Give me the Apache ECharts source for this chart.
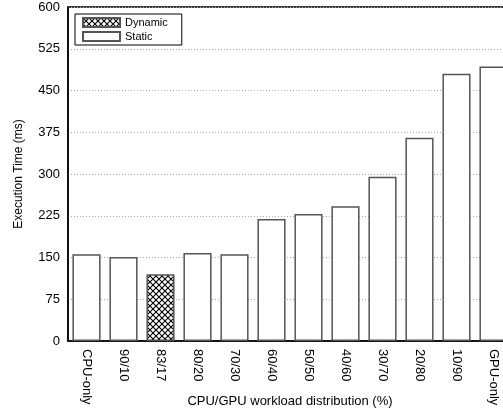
<!DOCTYPE html>
<html><head><meta charset="utf-8">
<script src="https://cdn.jsdelivr.net/npm/echarts@6/dist/echarts.min.js"></script>
<style>html,body{margin:0;padding:0;background:#fff;}#c{width:503px;height:415px;}</style>
</head><body><div id="c"></div>
<script>
const categories = ['CPU-only','90/10','83/17','80/20','70/30','60/40','50/50','40/60','30/70','20/80','10/90','GPU-only'];
const dynamicValues = ['-','-',120,'-','-','-','-','-','-','-','-','-'];
const staticValues = [156,151,'-',158,156,219,228,242,295,365,480,493];
const yTicks = [0,75,150,225,300,375,450,525,600];

function hatch(){
  const c = document.createElement('canvas');
  c.width = 6; c.height = 6;
  const g = c.getContext('2d');
  g.fillStyle = '#fff'; g.fillRect(0,0,6,6);
  g.strokeStyle = '#000'; g.lineWidth = 1.1;
  g.beginPath();
  g.moveTo(0,0); g.lineTo(6,6);
  g.moveTo(6,0); g.lineTo(0,6);
  g.stroke();
  return c;
}
const font = "'Liberation Sans', Arial, sans-serif";
const chart = echarts.init(document.getElementById('c'));
chart.setOption({
  animation:false,
  textStyle:{fontFamily:font},
  grid:{left:68, top:7, width:444, height:334, show:true, borderColor:'#000', borderWidth:1.5,
        backgroundColor:'transparent', containLabel:false, outerBoundsMode:'none'},
  legend:{
    left:75, top:14, orient:'vertical', itemWidth:37, itemHeight:9, itemGap:3, icon:'rect',
    borderColor:'#000', borderWidth:1, padding:[3,14,3,7], borderRadius:0,
    textStyle:{fontSize:11, color:'#000', fontFamily:font},
    data:['Dynamic','Static']
  },
  xAxis:{
    type:'category', data:categories,
    axisLine:{lineStyle:{color:'#000', width:1.5}},
    axisTick:{show:false},
    axisLabel:{rotate:-90, color:'#000', fontSize:13, margin:8, fontFamily:font},
    name:'CPU/GPU workload distribution (%)', nameLocation:'middle', nameGap:54, nameMoveOverlap:false,
    nameTextStyle:{fontSize:13, color:'#000', fontFamily:font}
  },
  yAxis:{
    type:'value', min:0, max:600, interval:75,
    axisLine:{show:true, lineStyle:{color:'#000', width:1.5}},
    axisTick:{show:false},
    axisLabel:{color:'#000', fontSize:13, margin:8, fontFamily:font},
    splitLine:{lineStyle:{color:'#aaa', type:[1,2], width:1}},
    name:'Execution Time (ms)', nameLocation:'middle', nameGap:43, nameMoveOverlap:false,
    nameTextStyle:{fontSize:12, color:'#000', fontFamily:font}
  },
  series:[
    {name:'Dynamic', type:'bar', stack:'s', data:dynamicValues, barWidth:'76%',
     itemStyle:{color:{image:hatch(), repeat:'repeat'}, borderColor:'#555', borderWidth:1.5}},
    {name:'Static', type:'bar', stack:'s', data:staticValues, barWidth:'76%',
     itemStyle:{color:'#fff', borderColor:'#555', borderWidth:1.5}}
  ]
});
</script></body></html>
